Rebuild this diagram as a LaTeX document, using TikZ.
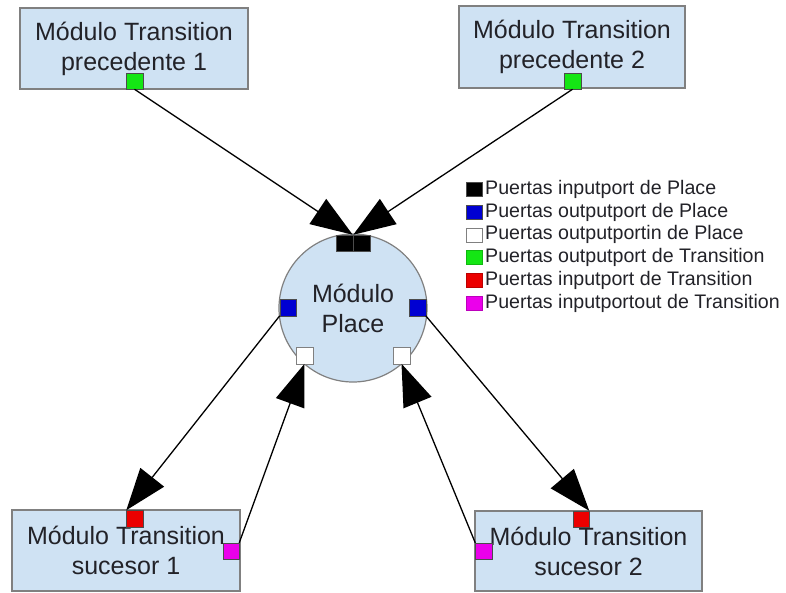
\documentclass[tikz,border=0pt]{standalone}
\usepackage{fontspec}
\setmainfont{Liberation Sans}
\usetikzlibrary{arrows.meta}
\definecolor{modfill}{RGB}{207,226,243}
\definecolor{modline}{RGB}{128,128,128}
\definecolor{txt}{RGB}{34,34,40}
\definecolor{pgreen}{RGB}{20,230,20}
\definecolor{pblue}{RGB}{0,0,210}
\definecolor{pred}{RGB}{235,0,0}
\definecolor{pmag}{RGB}{235,0,235}
\begin{document}
\begin{tikzpicture}[x=1pt,y=-1pt,
  modbox/.style={draw=modline, fill=modfill, line width=1.2pt, rectangle,
    align=center, text=txt, inner sep=0pt, outer sep=0pt,
    font=\fontsize{25}{30}\selectfont},
  placenode/.style={draw=modline, fill=modfill, line width=1.2pt, circle,
    minimum size=148pt, align=center, text=txt, inner sep=0pt,
    outer sep=0pt, font=\fontsize{25}{30}\selectfont},
  port/.style={draw=black!70, line width=0.5pt, rectangle, minimum width=16.5pt,
    minimum height=16.5pt, inner sep=0pt, outer sep=0pt},
  keysq/.style={draw=black!70, line width=0.5pt, rectangle, minimum width=16pt,
    minimum height=14pt, inner sep=0pt, outer sep=0pt},
  keytext/.style={anchor=west, text=txt, inner sep=0pt,
    font=\fontsize{19.6}{22}\selectfont},
  arr/.style={draw=black, line width=1.3pt,
    -{Triangle[length=42pt, width=30pt]}}
]
\useasboundingbox (0,0) rectangle (786,592);

% transition modules
\node[modbox, minimum width=228pt, minimum height=81pt] (p1) at (134,48.5)
  {Módulo Transition\\precedente 1};
\node[modbox, minimum width=226pt, minimum height=82pt] (p2) at (572,47)
  {Módulo Transition\\precedente 2};
\node[modbox, minimum width=228pt, minimum height=81pt] (s1) at (126,550.5)
  {Módulo Transition\\sucesor 1};
\node[modbox, minimum width=227pt, minimum height=80pt] (s2) at (588.5,551)
  {Módulo Transition\\sucesor 2};

% place module
\node[placenode] (pl) at (353,308) {Módulo\\Place};

% ports
\node[port, fill=pgreen] (g1) at (134.5,81) {};
\node[port, fill=pgreen] (g2) at (572.5,81) {};
\node[port, fill=black] (k1) at (344.5,243) {};
\node[port, fill=black] (k2) at (361.5,243) {};
\node[port, fill=pblue] (bL) at (288,307.5) {};
\node[port, fill=pblue] (bR) at (417.5,307.5) {};
\node[port, fill=white, draw=modline] (wL) at (304.5,355.5) {};
\node[port, fill=white, draw=modline] (wR) at (401.5,355.5) {};
\node[port, fill=pred] (r1) at (134.5,518.5) {};
\node[port, fill=pred] (r2) at (581,519) {};
\node[port, fill=pmag] (m1) at (231,551) {};
\node[port, fill=pmag] (m2) at (483.5,551) {};

% connections
\draw[arr] (g1.south) -- (k1.north east);
\draw[arr] (g2.south) -- (k2.north west);
\draw[arr] (bL.south west) -- (r1.north west);
\draw[arr] (bR.south east) -- (r2.north east);
\draw[arr] (m1.north east) -- (wL.south);
\draw[arr] (m2.north west) -- (wR.south);

% key
\node[keysq, fill=black] (q1) at (474.5,189.5) {};
\node[keytext] (t1) at (485,189.5) {Puertas inputport de Place};
\node[keysq, fill=pblue] (q2) at (474.5,212.2) {};
\node[keytext] (t2) at (485,212.2) {Puertas outputport de Place};
\node[keysq, fill=white, draw=modline] (q3) at (474.5,234.9) {};
\node[keytext] (t3) at (485,234.9) {Puertas outputportin de Place};
\node[keysq, fill=pgreen, draw=pgreen!80!black] (q4) at (474.5,257.6) {};
\node[keytext] (t4) at (485,257.6) {Puertas outputport de Transition};
\node[keysq, fill=pred, draw=pred!80!black] (q5) at (474.5,280.3) {};
\node[keytext] (t5) at (485,280.3) {Puertas inputport de Transition};
\node[keysq, fill=pmag, draw=pmag!80!black] (q6) at (474.5,303) {};
\node[keytext] (t6) at (485,303) {Puertas inputportout de Transition};
\end{tikzpicture}
\end{document}
